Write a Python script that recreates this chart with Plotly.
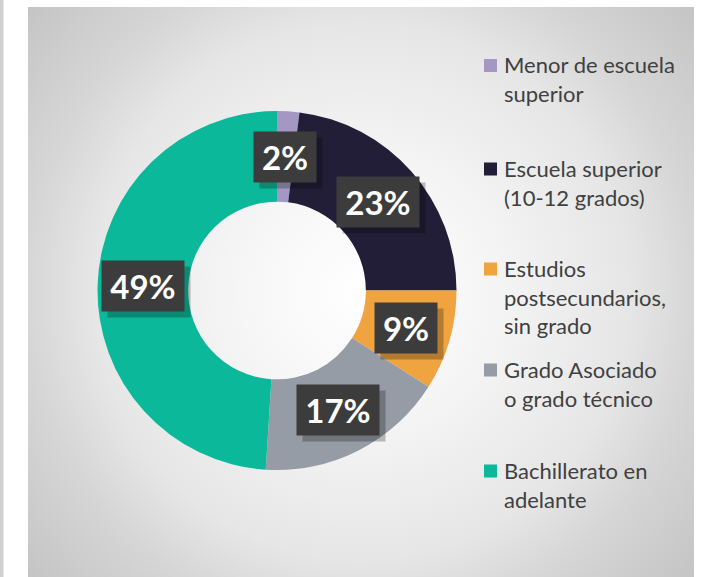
import math
import base64
import plotly.graph_objects as go

# ---------------- data ----------------
categories = [
    "Menor de escuela superior",
    "Escuela superior (10-12 grados)",
    "Estudios postsecundarios, sin grado",
    "Grado Asociado o grado técnico",
    "Bachillerato en adelante",
]
legend_text = [
    "Menor de escuela<br>superior",
    "Escuela superior<br>(10-12 grados)",
    "Estudios<br>postsecundarios,<br>sin grado",
    "Grado Asociado<br>o grado técnico",
    "Bachillerato en<br>adelante",
]
values = [2, 23, 9, 17, 49]
colors = ["#a597c4", "#231e38", "#f0a440", "#959ca5", "#0bb89a"]

# ---------------- layout geometry (pixels) ----------------
W, H = 703, 577
CX, CY, R = 277, 290.5, 179.5
HOLE = 0.495
LEG_X_SQ, LEG_X_TXT = 484, 502
LEG_Y = [65.5, 169, 269, 370, 471]


def px(x):
    return x / W


def py(y):
    return 1 - y / H


fig = go.Figure()
fig.add_trace(go.Pie(
    labels=categories,
    values=values,
    hole=HOLE,
    sort=False,
    direction="clockwise",
    rotation=0,
    marker=dict(colors=colors, line=dict(width=0)),
    textinfo="none",
    hoverinfo="label+percent",
    showlegend=False,
    domain=dict(x=[px(CX - R), px(CX + R)], y=[py(CY + R), py(CY - R)]),
))

annotations = []
shapes = []

# percentage labels in dark boxes, placed at the middle of each ring segment
total = sum(values)
cum = 0
r_mid = R * (1 + HOLE) / 2
for v in values:
    mid = (cum + v / 2) / total * 2 * math.pi
    cum += v
    x = CX + r_mid * math.sin(mid)
    y = CY - r_mid * math.cos(mid)
    txt = f"{round(v / total * 100)}%"
    bw = 62 if len(txt) <= 2 else 82
    common = dict(x=px(x), y=py(y), xref="paper", yref="paper", showarrow=False,
                  xanchor="center", yanchor="middle", width=bw, height=50, borderpad=0)
    # shadow (empty box)
    annotations.append(dict(
        text="\u00a0", font=dict(family="Lato", size=10, color="rgba(0,0,0,0)"),
        bgcolor="rgba(0,0,0,0.25)", xshift=6, yshift=-6, **common,
    ))
    annotations.append(dict(
        text=f"<b>{txt}</b>", font=dict(family="Lato", size=33, color="#ffffff"),
        bgcolor="#3c3c3c", **common,
    ))

# custom legend
for lab, col, yc in zip(legend_text, colors, LEG_Y):
    shapes.append(dict(
        type="rect", xref="paper", yref="paper",
        x0=px(LEG_X_SQ), x1=px(LEG_X_SQ + 13), y0=py(yc + 6.5), y1=py(yc - 6.5),
        fillcolor=col, line=dict(width=0),
    ))
    annotations.append(dict(
        x=px(LEG_X_TXT), y=py(yc - 16.5), xref="paper", yref="paper",
        xanchor="left", yanchor="top", align="left", showarrow=False,
        text=lab, font=dict(family="Lato", size=22, color="#404040"),
    ))

# left thin stripe
shapes.append(dict(
    type="rect", xref="paper", yref="paper", layer="below",
    x0=0, x1=px(3.5), y0=0, y1=1, fillcolor="#d0d0d0", line=dict(width=0),
))

# gradient panel background via SVG image
PX0, PY0, PX1, PY1 = 28, 7, 694, 577
pw, ph = PX1 - PX0, PY1 - PY0
svg = (
    f'<svg xmlns="http://www.w3.org/2000/svg" width="{pw}" height="{ph}" viewBox="0 0 {pw} {ph}">'
    f'<defs><radialGradient id="g" gradientUnits="userSpaceOnUse" cx="333" cy="285" r="440">'
    '<stop offset="0" stop-color="#ffffff"/>'
    '<stop offset="0.27" stop-color="#f6f6f6"/>'
    '<stop offset="0.61" stop-color="#e6e6e6"/>'
    '<stop offset="0.76" stop-color="#d6d6d6"/>'
    '<stop offset="1" stop-color="#c4c4c4"/>'
    '</radialGradient></defs>'
    f'<rect x="0" y="0" width="{pw}" height="{ph}" fill="url(#g)"/></svg>'
)
src = "data:image/svg+xml;base64," + base64.b64encode(svg.encode()).decode()

fig.update_layout(
    width=W, height=H,
    margin=dict(l=0, r=0, t=0, b=0),
    paper_bgcolor="#ffffff",
    plot_bgcolor="#ffffff",
    annotations=annotations,
    shapes=shapes,
    images=[dict(
        source=src, xref="paper", yref="paper",
        x=px(PX0), y=py(PY0), sizex=pw / W, sizey=ph / H,
        xanchor="left", yanchor="top", sizing="stretch", layer="below",
    )],
)

fig.write_html("out.html", config={"displayModeBar": False},
               post_script="document.body.style.margin='0px';")
